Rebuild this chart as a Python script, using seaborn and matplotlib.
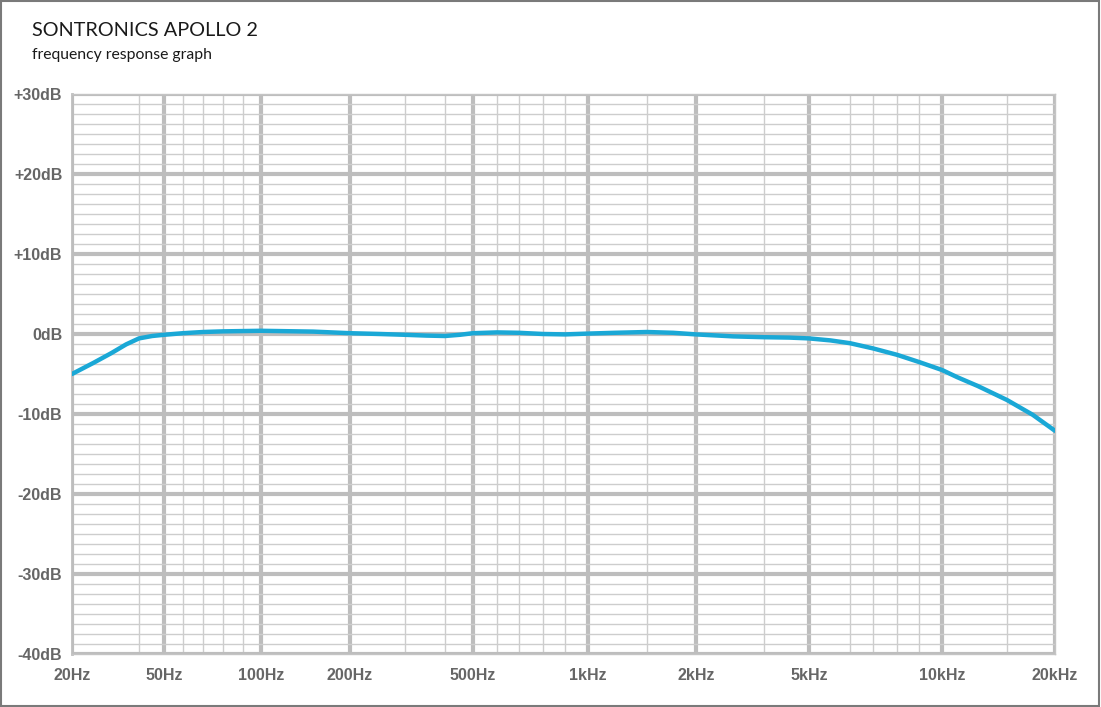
import numpy as np
import pandas as pd
import seaborn as sns
import matplotlib.pyplot as plt
from matplotlib.ticker import FixedLocator

# Frequency response readings (Hz, dB)
freq_hz = [20, 25, 30, 35, 40, 45, 50, 60, 70, 80, 100, 150, 200, 250, 300, 350,
           400, 450, 500, 600, 700, 800, 900, 1000, 1200, 1500, 1750, 2000,
           2500, 3000, 4000, 5000, 5500, 6000, 7000, 8000, 9000, 10000, 11000,
           12500, 15000, 17500, 20000]
level_db = [-5.0, -3.6, -2.4, -1.3, -0.55, -0.25, -0.1, 0.1, 0.25, 0.33, 0.4,
            0.3, 0.1, 0.0, -0.1, -0.2, -0.25, -0.1, 0.1, 0.2, 0.15, 0.0, -0.05,
            0.05, 0.15, 0.25, 0.15, -0.05, -0.3, -0.4, -0.45, -0.55, -0.8, -1.15,
            -1.8, -2.6, -3.5, -4.5, -5.4, -6.5, -8.25, -10.1, -12.1]

major_freqs = [20, 50, 100, 200, 500, 1000, 2000, 5000, 10000, 20000]
major_labels = ['20Hz', '50Hz', '100Hz', '200Hz', '500Hz', '1kHz', '2kHz',
                '5kHz', '10kHz', '20kHz']
minor_freqs = [40, 60, 70, 80, 90, 300, 400, 600, 700, 800, 900, 1500, 3000,
               6000, 7000, 8000, 9000, 15000]
db_ticks = [30, 20, 10, 0, -10, -20, -30, -40]
db_labels = ['+30dB', '+20dB', '+10dB', '0dB', '-10dB', '-20dB', '-30dB', '-40dB']

# the printed graph paper is not a clean log axis, so map it piecewise
scale_f = np.log10([20, 40, 50, 60, 70, 80, 90, 100, 200, 300, 400, 500, 600,
                    700, 800, 900, 1000, 1500, 2000, 3000, 5000, 6000, 7000,
                    8000, 9000, 10000, 15000, 20000])
scale_p = np.array([72, 139, 164, 183, 203, 223, 243, 261, 350, 405, 445, 473,
                    497, 519, 543, 565, 588, 647, 696, 764, 809, 850, 873, 897,
                    919, 942, 1007, 1055], dtype=float)


def forward(f):
    f = np.clip(np.asarray(f, dtype=float), 1e-6, None)
    return np.interp(np.log10(f), scale_f, scale_p)


def inverse(p):
    return 10 ** np.interp(np.asarray(p, dtype=float), scale_p, scale_f)


df = pd.DataFrame({'freq': freq_hz, 'db': level_db})

sns.set_style('white')
plt.rcParams['font.family'] = ['Liberation Sans', 'DejaVu Sans']

fig = plt.figure(figsize=(11.01, 7.07), dpi=100)
ax = fig.add_axes([72 / 1101, 1 - 654 / 707, (1055 - 72) / 1101, (654 - 94) / 707])

sns.lineplot(data=df, x='freq', y='db', ax=ax, color='#1aa8d6', linewidth=3.2,
             solid_capstyle='round', solid_joinstyle='round', zorder=5)

ax.set_xscale('function', functions=(forward, inverse))
ax.set_xlim(20, 20000)
ax.set_ylim(-40, 30)

ax.xaxis.set_major_locator(FixedLocator(major_freqs))
ax.xaxis.set_minor_locator(FixedLocator(minor_freqs))
ax.set_xticks(major_freqs, major_labels)
ax.set_yticks(db_ticks, db_labels)
ax.yaxis.set_minor_locator(FixedLocator(np.arange(-40, 30.01, 1.25)))

ax.set_axisbelow(True)
ax.grid(which='major', color='#bdbdbd', linewidth=3)
ax.grid(which='minor', color='#cdcdcd', linewidth=1)

ax.tick_params(which='both', length=0)
ax.tick_params(axis='y', pad=7, labelsize=11.5, labelcolor='#666666')
ax.tick_params(axis='x', pad=10, labelsize=11.5, labelcolor='#666666')
for lbl in ax.get_xticklabels() + ax.get_yticklabels():
    lbl.set_fontweight('bold')

for side in ['top', 'right', 'bottom']:
    ax.spines[side].set_color('#c4c4c4')
    ax.spines[side].set_linewidth(1)
ax.spines['left'].set_color('#bdbdbd')
ax.spines['left'].set_linewidth(2)

ax.set_xlabel('')
ax.set_ylabel('')

fig.text(32 / 1101, 1 - 31 / 707, 'SONTRONICS APOLLO 2', fontsize=14.3,
         color='#1a1a1a', va='center', ha='left', family=['Lato', 'DejaVu Sans'])
fig.text(32 / 1101, 1 - 55 / 707, 'frequency response graph', fontsize=11.3,
         color='#1a1a1a', va='center', ha='left', family=['Lato', 'DejaVu Sans'])

# thin frame around the whole picture
fig.patches.append(plt.Rectangle((0.0005, 0.001), 0.998, 0.997,
                                 transform=fig.transFigure, fill=False,
                                 edgecolor='#7a7a7a', linewidth=1.5))

fig.savefig('out.png', dpi=100)
